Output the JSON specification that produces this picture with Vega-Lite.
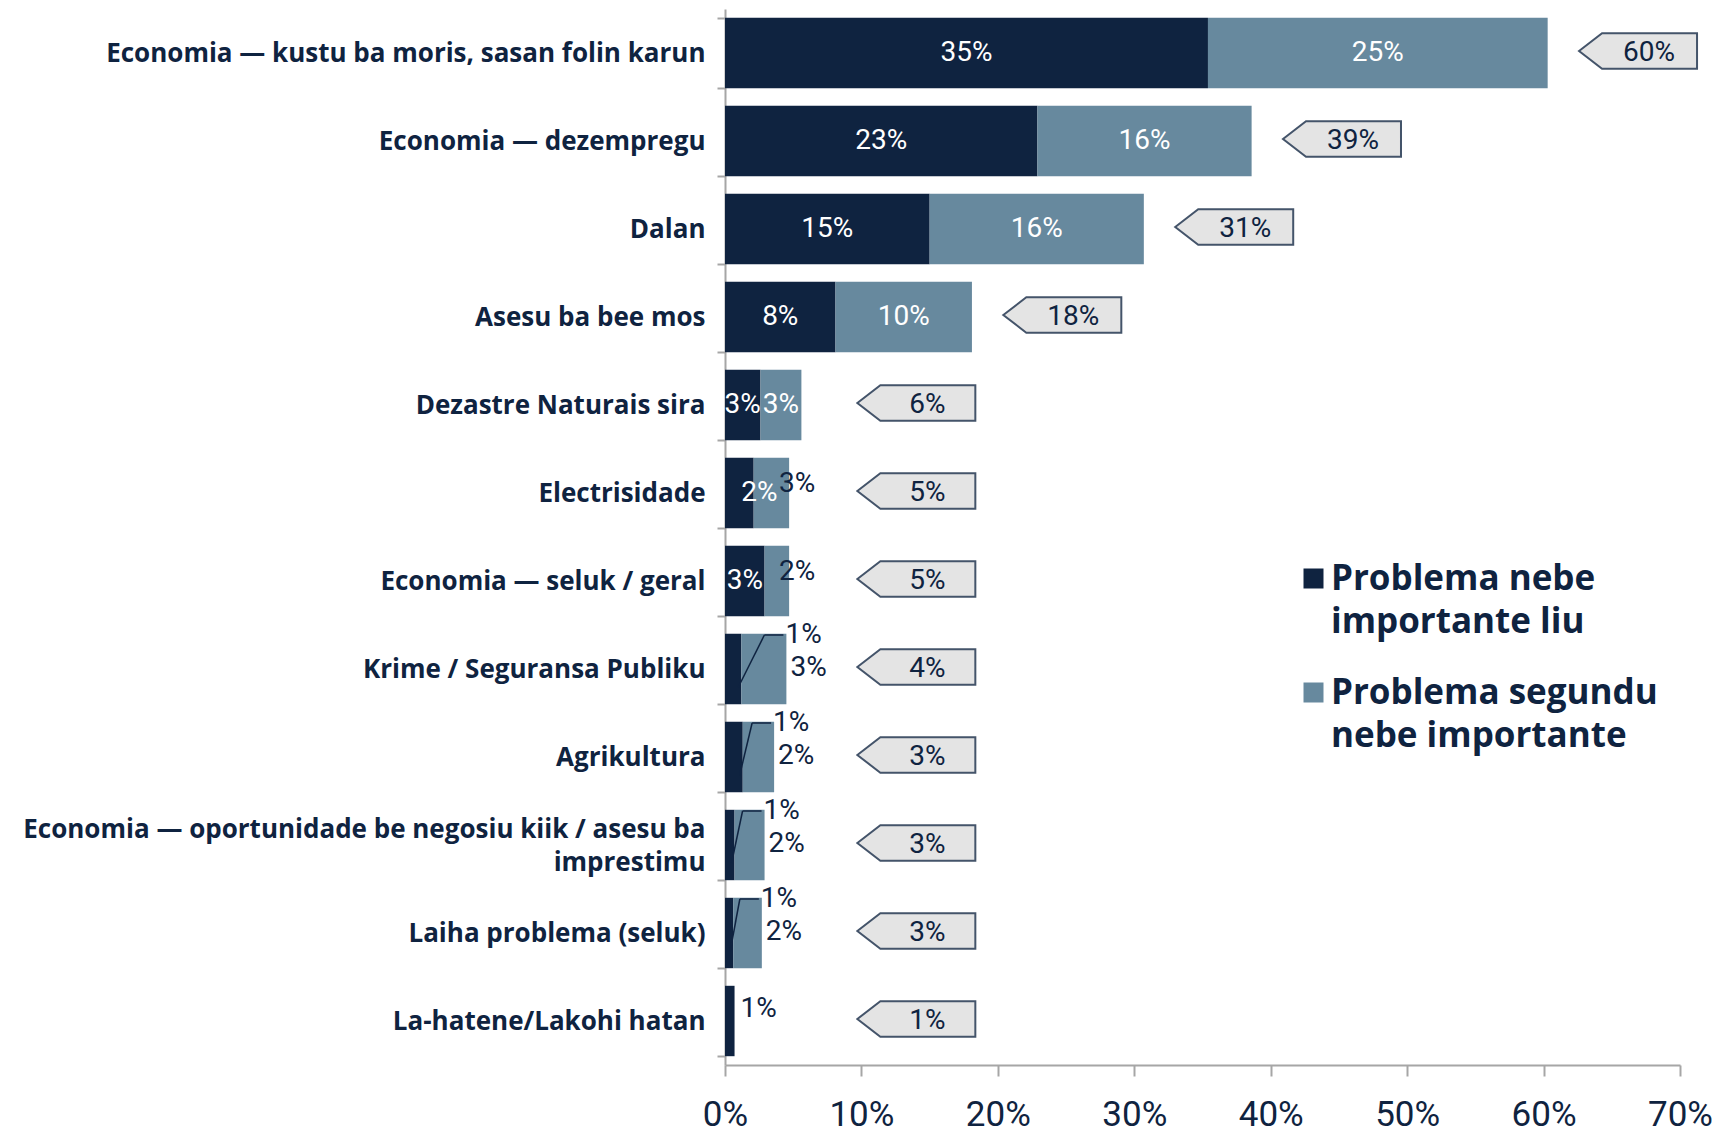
{
  "$schema": "https://vega.github.io/schema/vega-lite/v6.json",
  "autosize": {"type": "none"},
  "padding": {"left": 725, "top": 9, "right": 51, "bottom": 72},
  "width": 955,
  "height": 1056,
  "background": "white",
  "config": {
    "view": {"stroke": null},
    "style": {"guide-label": {"lineHeight": 43}}
  },
  "data": {
    "values": [
      {"cat": "Economia — kustu ba moris, sasan folin karun", "dark": 0.354, "light": 0.249, "total": 0.60},
      {"cat": "Economia — dezempregu", "dark": 0.229, "light": 0.157, "total": 0.39},
      {"cat": "Dalan", "dark": 0.150, "light": 0.157, "total": 0.31},
      {"cat": "Asesu ba bee mos", "dark": 0.081, "light": 0.100, "total": 0.18},
      {"cat": "Dezastre Naturais sira", "dark": 0.026, "light": 0.030, "total": 0.06},
      {"cat": "Electrisidade", "dark": 0.021, "light": 0.026, "total": 0.05},
      {"cat": "Economia — seluk / geral", "dark": 0.029, "light": 0.018, "total": 0.05},
      {"cat": "Krime / Seguransa Publiku", "dark": 0.012, "light": 0.033, "total": 0.04},
      {"cat": "Agrikultura", "dark": 0.013, "light": 0.023, "total": 0.03},
      {"cat": "Economia — oportunidade be negosiu kiik / asesu ba imprestimu", "dark": 0.007, "light": 0.022, "total": 0.03},
      {"cat": "Laiha problema (seluk)", "dark": 0.006, "light": 0.021, "total": 0.03},
      {"cat": "La-hatene/Lakohi hatan", "dark": 0.007, "light": 0, "total": 0.01}
    ]
  },
  "transform": [
    {"calculate": "datum.dark + datum.light", "as": "endx"},
    {"calculate": "max(datum.endx + 0.023, 0.097)", "as": "cx"},
    {"fold": ["dark", "light"], "as": ["key", "value"]},
    {"calculate": "datum.key == 'dark' ? 'Problema nebe importante liu' : 'Problema segundu nebe importante'", "as": "series"},
    {"stack": "value", "groupby": ["cat"], "sort": [{"field": "key", "order": "ascending"}], "as": ["x0", "x1"]},
    {"calculate": "(datum.x0 + datum.x1) / 2", "as": "mid"}
  ],
  "encoding": {
    "y": {
      "field": "cat",
      "type": "nominal",
      "sort": null,
      "title": null,
      "scale": {"paddingInner": 0.2, "paddingOuter": 0.1},
      "axis": {
        "domainColor": "#a6a6a6",
        "domainWidth": 2,
        "tickColor": "#a6a6a6",
        "tickWidth": 2,
        "tickSize": 8,
        "tickBand": "extent",
        "labelFont": "Open Sans",
        "labelFontWeight": "bold",
        "labelFontSize": 26,
        "labelColor": "#0f2340",
        "labelPadding": 12,
        "labelLimit": 720,
        "labelLineHeight": 33,
        "labelOffset": {"condition": {"test": "datum.value == 'Economia — oportunidade be negosiu kiik / asesu ba imprestimu'", "value": -16}, "value": 0},
        "labelExpr": "datum.label == 'Economia — oportunidade be negosiu kiik / asesu ba imprestimu' ? ['Economia — oportunidade be negosiu kiik / asesu ba', 'imprestimu'] : datum.label"
      }
    }
  },
  "layer": [
    {
      "mark": {"type": "bar"},
      "encoding": {
        "x": {
          "field": "x0",
          "type": "quantitative",
          "scale": {"domain": [0, 0.7], "nice": false},
          "title": null,
          "axis": {
            "format": ".0%",
            "values": [0, 0.1, 0.2, 0.3, 0.4, 0.5, 0.6, 0.7],
            "grid": false,
            "domainColor": "#a6a6a6",
            "domainWidth": 2,
            "tickColor": "#a6a6a6",
            "tickWidth": 2,
            "tickSize": 11,
            "labelFont": "Roboto",
            "labelFontSize": 35,
            "labelColor": "#0f2340",
            "labelPadding": 21,
            "labelFlush": false
          }
        },
        "x2": {"field": "x1"},
        "color": {
          "field": "series",
          "type": "nominal",
          "scale": {"domain": ["Problema nebe importante liu", "Problema segundu nebe importante"], "range": ["#0f2340", "#67899e"]},
          "legend": {
            "title": null,
            "orient": "none",
            "legendX": 571,
            "legendY": 552,
            "symbolType": "square",
            "symbolSize": 400,
            "symbolStrokeWidth": 0,
            "labelFont": "Open Sans",
            "labelFontWeight": "bold",
            "labelFontSize": 35,
            "labelColor": "#0f2340",
            "labelLimit": 500,
            "labelOffset": 0,
            "labelBaseline": "middle",
            "rowPadding": 35,
            "labelExpr": "datum.label == 'Problema nebe importante liu' ? ['Problema nebe', 'importante liu'] : ['Problema segundu', 'nebe importante']"
          }
        }
      }
    },
    {
      "transform": [{"filter": "(datum.key == 'dark' && datum.value >= 0.025) || (datum.key == 'light' && datum.value >= 0.03 && datum.dark >= 0.02)"}],
      "mark": {"type": "text", "color": "white", "font": "Roboto", "fontSize": 28, "baseline": "middle"},
      "encoding": {
        "x": {"field": "mid", "type": "quantitative"},
        "text": {"field": "value", "type": "quantitative", "format": ".0%"}
      }
    },
    {
      "transform": [{"filter": "datum.key == 'dark' && datum.value >= 0.02 && datum.value < 0.025"}],
      "mark": {"type": "text", "color": "white", "font": "Roboto", "fontSize": 28, "baseline": "middle", "dx": 20},
      "encoding": {
        "x": {"field": "mid", "type": "quantitative"},
        "text": {"field": "value", "type": "quantitative", "format": ".0%"}
      }
    },
    {
      "transform": [{"filter": "datum.key == 'light' && datum.value > 0 && datum.dark >= 0.02 && datum.value < 0.03"}],
      "mark": {"type": "text", "color": "#0f2340", "font": "Roboto", "fontSize": 28, "align": "left", "baseline": "middle", "dx": -10, "dy": -9},
      "encoding": {
        "x": {"field": "endx", "type": "quantitative"},
        "text": {"field": "value", "type": "quantitative", "format": ".0%"}
      }
    },
    {
      "transform": [{"filter": "datum.key == 'light' && datum.value > 0 && datum.dark < 0.02"}],
      "mark": {"type": "text", "color": "#0f2340", "font": "Roboto", "fontSize": 28, "align": "left", "baseline": "middle", "dx": 4, "dy": -1},
      "encoding": {
        "x": {"field": "endx", "type": "quantitative"},
        "text": {"field": "value", "type": "quantitative", "format": ".0%"}
      }
    },
    {
      "transform": [{"filter": "datum.key == 'dark' && datum.value < 0.02 && datum.light > 0"}],
      "mark": {"type": "text", "color": "#0f2340", "font": "Roboto", "fontSize": 28, "align": "left", "baseline": "middle", "dx": -1, "dy": -34},
      "encoding": {
        "x": {"field": "endx", "type": "quantitative"},
        "text": {"field": "value", "type": "quantitative", "format": ".0%"}
      }
    },
    {
      "transform": [{"filter": "datum.key == 'dark' && datum.light == 0"}],
      "mark": {"type": "text", "color": "#0f2340", "font": "Roboto", "fontSize": 28, "align": "left", "baseline": "middle", "dx": 6, "dy": -12},
      "encoding": {
        "x": {"field": "endx", "type": "quantitative"},
        "text": {"field": "value", "type": "quantitative", "format": ".0%"}
      }
    },
    {
      "transform": [{"filter": "datum.key == 'dark' && datum.value < 0.02 && datum.light > 0"}],
      "mark": {"type": "rule", "color": "#0f2340", "strokeWidth": 1.5, "xOffset": -3, "x2Offset": -22, "yOffset": 18, "y2Offset": -34},
      "encoding": {
        "x": {"field": "x1", "type": "quantitative"},
        "x2": {"field": "endx"},
        "y2": {"field": "cat"}
      }
    },
    {
      "transform": [{"filter": "datum.key == 'dark' && datum.value < 0.02 && datum.light > 0"}],
      "mark": {"type": "rule", "color": "#0f2340", "strokeWidth": 1.5, "xOffset": -22, "x2Offset": -3, "yOffset": -34},
      "encoding": {
        "x": {"field": "endx", "type": "quantitative"},
        "x2": {"field": "endx"}
      }
    },
    {
      "transform": [{"filter": "datum.key == 'dark'"}],
      "mark": {"type": "point", "shape": "M0 0 L0.39 -0.3 L2 -0.3 L2 0.3 L0.39 0.3 Z", "size": 13924, "filled": true, "fill": "#e4e4e4", "stroke": "#44546a", "strokeWidth": 2, "opacity": 1, "yOffset": -2},
      "encoding": {
        "x": {"field": "cx", "type": "quantitative"}
      }
    },
    {
      "transform": [{"filter": "datum.key == 'dark'"}],
      "mark": {"type": "text", "color": "#0f2340", "font": "Roboto", "fontSize": 28, "baseline": "middle", "dx": 70, "dy": 0},
      "encoding": {
        "x": {"field": "cx", "type": "quantitative"},
        "text": {"field": "total", "type": "quantitative", "format": ".0%"}
      }
    }
  ]
}
